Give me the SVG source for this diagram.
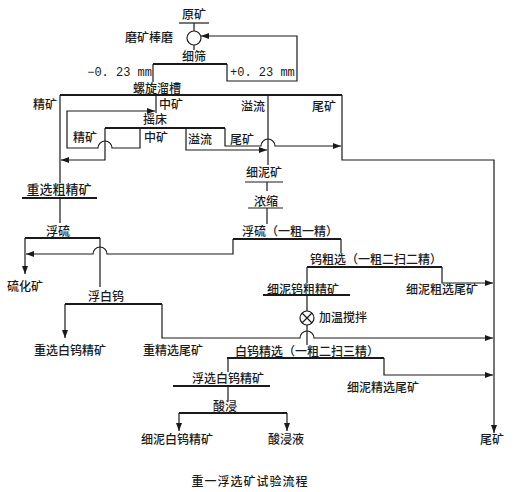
<svg xmlns="http://www.w3.org/2000/svg" width="515" height="492" viewBox="0 0 515 492">
<defs>
<marker id="ah" markerWidth="8" markerHeight="6" refX="8" refY="3" orient="auto" markerUnits="userSpaceOnUse">
<path d="M0,0 L8,3 L0,6 z" fill="#1a1a1a"/>
</marker>
<style>
.t{font-family:"Noto Sans CJK SC","Noto Sans CJK TC",sans-serif;font-size:12px;font-weight:500;fill:#1a1a1a;text-anchor:middle}
.s{text-anchor:start}
.e{text-anchor:end}
.m{font-family:"Liberation Mono",monospace;font-size:12px;fill:#1a1a1a}
.ln{fill:none;stroke:#1a1a1a;stroke-width:1.2}
.bar{fill:none;stroke:#1a1a1a;stroke-width:2}
.ar{marker-end:url(#ah)}
</style>
</defs>
<rect width="515" height="492" fill="#ffffff"/>

<g id="connectors">
<path class="ln" d="M194,23 V31"/>
<path class="ln" d="M194,45 V50"/>
<path class="ln ar" d="M227,64 V81 H297 V36 H201"/>
<path class="ln" d="M153,64 V82"/>
<path class="ln" d="M60,95 V183"/>
<path class="ln" d="M156,95 V113"/>
<path class="ln" d="M268,95 V165"/>
<path class="ln ar" d="M342,95 V160 H494 V433"/>
<path class="ln ar" d="M105,128 V160 H61"/>
<path class="ln ar" d="M140,128 V148 H112 A7,7 0 0 0 98,148 H67 V111 H155"/>
<path class="ln ar" d="M186,128 V150 H267"/>
<path class="ln ar" d="M225,128 V146 H261 A7,7 0 0 1 275,146 H341"/>
<path class="ln" d="M267,182 V191"/>
<path class="ln" d="M267,208 V224"/>
<path class="ln ar" d="M233,239 V254 H107 A7,7 0 0 0 93,254 H26"/>
<path class="ln" d="M341,239 V253"/>
<path class="ln" d="M307,267 V283"/>
<path class="ln ar" d="M442,267 V283 H493"/>
<path class="ln" d="M307,295 V311"/>
<path class="ln" d="M307,325 V345"/>
<path class="ln ar" d="M162,304 V338 H300 A7,7 0 0 1 314,338 H493"/>
<path class="ln ar" d="M384,358 V375 H493"/>
<path class="ln" d="M228,358 V372"/>
<path class="ln" d="M228,386 V401"/>
<path class="ln ar" d="M179,413 V431"/>
<path class="ln ar" d="M287,413 V431"/>
<path class="ln" d="M60,198 V223"/>
<path class="ln ar" d="M25,238 V274"/>
<path class="ln" d="M100,238 V287"/>
<path class="ln ar" d="M65,304 V338"/>
</g>

<g id="n-yuankuang"><text class="t" x="194" y="19">原矿</text><path class="ln" d="M179,23 H209"/></g>
<g id="n-mokuang"><circle class="ln" cx="194" cy="38" r="7"/><text class="t e" x="173" y="42">磨矿棒磨</text></g>
<g id="n-xishai"><text class="t" x="194" y="61">细筛</text><path class="bar" d="M153,64 H227"/>
<text class="m" x="152" y="76" text-anchor="end">−0. 23 mm</text>
<text class="m" x="230" y="76">+0. 23 mm</text></g>
<g id="n-luoxuan"><text class="t" x="157" y="93">螺旋溜槽</text><path class="bar" d="M60,95 H342"/>
<text class="t" x="45" y="109">精矿</text>
<text class="t s" x="159" y="109">中矿</text>
<text class="t" x="253" y="111">溢流</text>
<text class="t" x="324" y="111">尾矿</text></g>
<g id="n-yaochuang"><text class="t" x="155" y="124">摇床</text><path class="bar" d="M105,128 H225"/>
<text class="t" x="85" y="142">精矿</text>
<text class="t" x="156" y="142">中矿</text>
<text class="t" x="200" y="144">溢流</text>
<text class="t" x="242" y="144">尾矿</text></g>
<g id="n-xiniKuang"><text class="t" x="264" y="177">细泥矿</text><path class="ln" d="M245,182 H283"/></g>
<g id="n-nongsuo"><text class="t" x="266" y="206">浓缩</text><path class="ln" d="M248,208 H283"/></g>
<g id="n-zhongxuan"><text class="t" x="59" y="194" style="font-size:13px">重选粗精矿</text><path class="bar" d="M22,198 H97"/></g>
<g id="n-fuliu"><text class="t" x="58" y="236">浮硫</text><path class="bar" d="M25,238 H100"/></g>
<g id="n-fuliu2"><text class="t" x="290" y="236">浮硫（一粗一精）</text><path class="bar" d="M233,239 H341"/></g>
<g id="n-liuhua"><text class="t" x="25" y="291">硫化矿</text></g>
<g id="n-wucu"><text class="t" x="376" y="264">钨粗选（一粗二扫二精）</text><path class="bar" d="M307,267 H442"/></g>
<g id="n-xiniwucu"><text class="t" x="303" y="294">细泥钨粗精矿</text><path class="bar" d="M263,295 H350"/></g>
<g id="n-xinicuweik"><text class="t" x="442" y="294">细泥粗选尾矿</text></g>
<g id="n-fubaiwu"><text class="t" x="106" y="301">浮白钨</text><path class="bar" d="M65,304 H162"/></g>
<g id="n-jiawen"><circle class="ln" cx="307" cy="318" r="7"/><path class="ln" d="M302,313 L312,323 M312,313 L302,323"/><text class="t s" x="319" y="322">加温搅拌</text></g>
<g id="n-zxbw"><text class="t" x="70" y="355">重选白钨精矿</text></g>
<g id="n-zjxw"><text class="t" x="173" y="355">重精选尾矿</text></g>
<g id="n-baiwujx"><text class="t" x="307" y="356">白钨精选（一粗二扫三精）</text><path class="bar" d="M227,358 H384"/></g>
<g id="n-xinijxw"><text class="t" x="383" y="392">细泥精选尾矿</text></g>
<g id="n-fxbw"><text class="t" x="228" y="383">浮选白钨精矿</text><path class="bar" d="M173,386 H270"/></g>
<g id="n-suanjin"><text class="t" x="225" y="411">酸浸</text><path class="bar" d="M179,413 H287"/></g>
<g id="n-xinibw"><text class="t" x="177" y="444">细泥白钨精矿</text></g>
<g id="n-suanjinye"><text class="t" x="286" y="444">酸浸液</text></g>
<g id="n-weikuang"><text class="t" x="492" y="444">尾矿</text></g>
<text class="t" x="250" y="486" style="letter-spacing:1px">重一浮选矿试验流程</text>
</svg>
